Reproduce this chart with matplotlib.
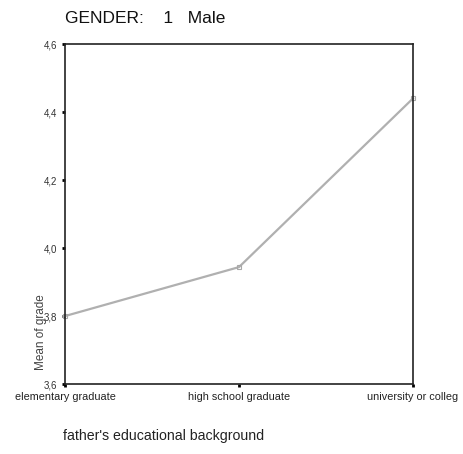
import numpy as np
import matplotlib.pyplot as plt

plt.rcParams['font.family'] = ['Liberation Sans', 'DejaVu Sans']

# father's educational background categories and mean grade
categories = ['elementary graduate', 'high school graduate', 'university or colleg']
mean_grade = [3.80, 3.944, 4.44]
yticks = [3.6, 3.8, 4.0, 4.2, 4.4, 4.6]
ytick_labels = ['3,6', '3,8', '4,0', '4,2', '4,4', '4,6']

fig = plt.figure(figsize=(4.64, 4.54), dpi=100)
ax = fig.add_axes([0.140, 0.154, 0.750, 0.749])

x = np.arange(len(categories))
ax.plot(x, mean_grade, color='#b0b0b0', lw=1.6, marker='s', ms=3,
        mfc='none', mec='#a8a8a8', mew=0.8, clip_on=False)

ax.set_xlim(0, len(categories) - 1)
ax.set_ylim(3.6, 4.6)
ax.set_xticks(x)
ax.set_xticklabels(categories, fontsize=7.8, color='#222222')
ax.tick_params(axis='x', pad=4)
ax.set_yticks(yticks)
ax.set_yticklabels(ytick_labels, fontsize=7, color='#333333')
ax.tick_params(length=2, width=2)

for s in ax.spines.values():
    s.set_linewidth(1.2)
    s.set_color('#222222')

fig.text(0.088, 0.268, 'Mean of grade', rotation=90, fontsize=8.5,
         ha='center', va='center', color='#444444')
fig.text(0.135, 0.025, "father's educational background", fontsize=10.2,
         ha='left', va='bottom', color='#222222')
fig.text(0.14, 0.943, 'GENDER:    1   Male', fontsize=12.5,
         ha='left', va='bottom', color='#111111')

fig.savefig('out.png', dpi=100, facecolor='white')
